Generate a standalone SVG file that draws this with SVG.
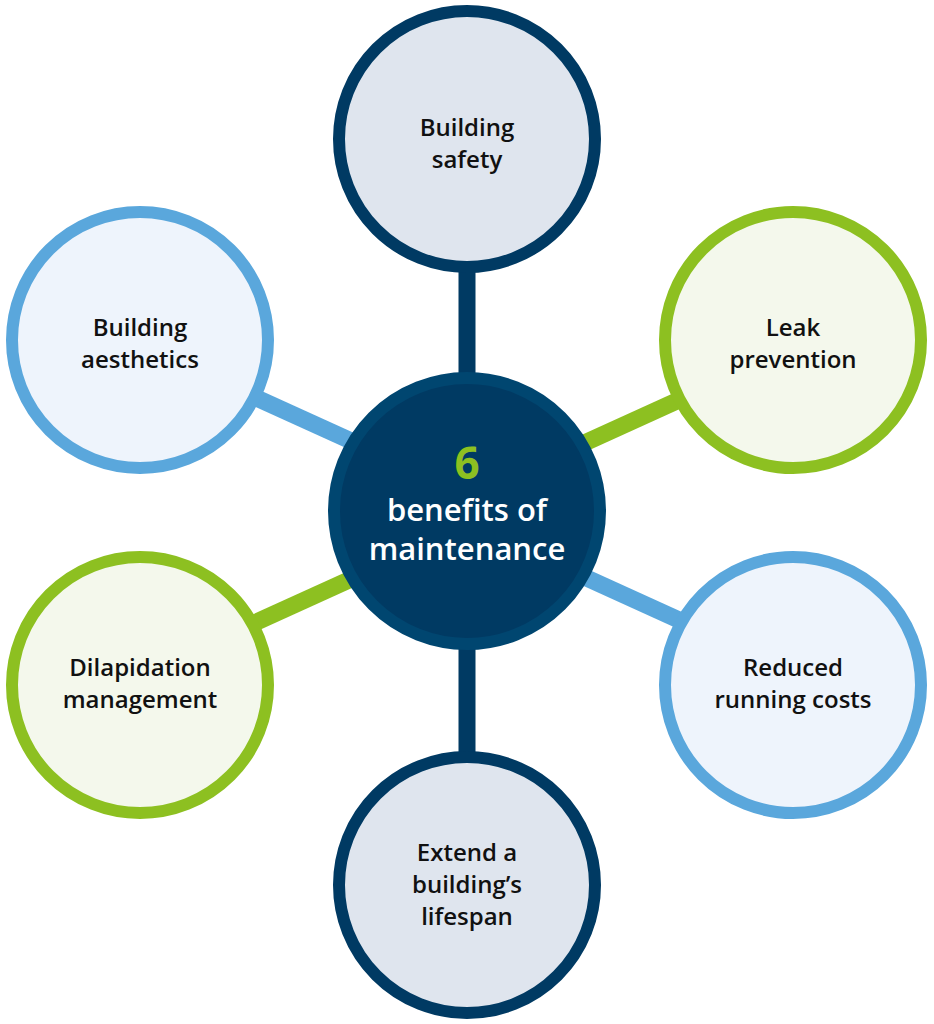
<svg xmlns="http://www.w3.org/2000/svg" width="934" height="1024" viewBox="0 0 934 1024">
<style>
.t{font-family:"Open Sans","Liberation Sans",sans-serif;font-size:24px;font-weight:600;fill:#111;text-anchor:middle}
.c{font-family:"Open Sans","Liberation Sans",sans-serif;font-size:31px;font-weight:600;fill:#fff;text-anchor:middle}
.navy{fill:#dfe5ee;stroke:#003a63;stroke-width:12}
.blue{fill:#eef4fc;stroke:#5aa7dc;stroke-width:12}
.green{fill:#f4f8ec;stroke:#8dc021;stroke-width:12}
</style>
<g id="connectors" stroke-width="17">
<line x1="467" y1="260" x2="467" y2="380" stroke="#003a63"/>
<line x1="467" y1="640" x2="467" y2="760" stroke="#003a63"/>
<line x1="250" y1="395" x2="360" y2="445" stroke="#5aa7dc"/>
<line x1="580" y1="575" x2="690" y2="625" stroke="#5aa7dc"/>
<line x1="580" y1="445" x2="690" y2="395" stroke="#8dc021"/>
<line x1="250" y1="625" x2="360" y2="575" stroke="#8dc021"/>
</g>
<g id="top"><circle class="navy" cx="467" cy="139" r="128"/><text class="t" x="467" y="136">Building</text><text class="t" x="467" y="168">safety</text></g>
<g id="bottom"><circle class="navy" cx="467" cy="885" r="128"/><text class="t" x="467" y="861">Extend a</text><text class="t" x="467" y="893">building’s</text><text class="t" x="467" y="925">lifespan</text></g>
<g id="upleft"><circle class="blue" cx="140" cy="340" r="128"/><text class="t" x="140" y="336">Building</text><text class="t" x="140" y="368">aesthetics</text></g>
<g id="upright"><circle class="green" cx="793" cy="340" r="128"/><text class="t" x="793" y="336">Leak</text><text class="t" x="793" y="368">prevention</text></g>
<g id="lowleft"><circle class="green" cx="140" cy="685" r="128"/><text class="t" x="140" y="676">Dilapidation</text><text class="t" x="140" y="708">management</text></g>
<g id="lowright"><circle class="blue" cx="793" cy="685" r="128"/><text class="t" x="793" y="676">Reduced</text><text class="t" x="793" y="708">running costs</text></g>
<g id="center"><circle cx="467" cy="511" r="133" fill="#003a63" stroke="#004670" stroke-width="12"/>
<text x="467" y="479" font-family="Open Sans,Liberation Sans,sans-serif" font-size="44" font-weight="700" fill="#8dc021" text-anchor="middle">6</text>
<text class="c" x="467" y="521">benefits of</text><text class="c" x="467" y="560">maintenance</text></g>
</svg>
